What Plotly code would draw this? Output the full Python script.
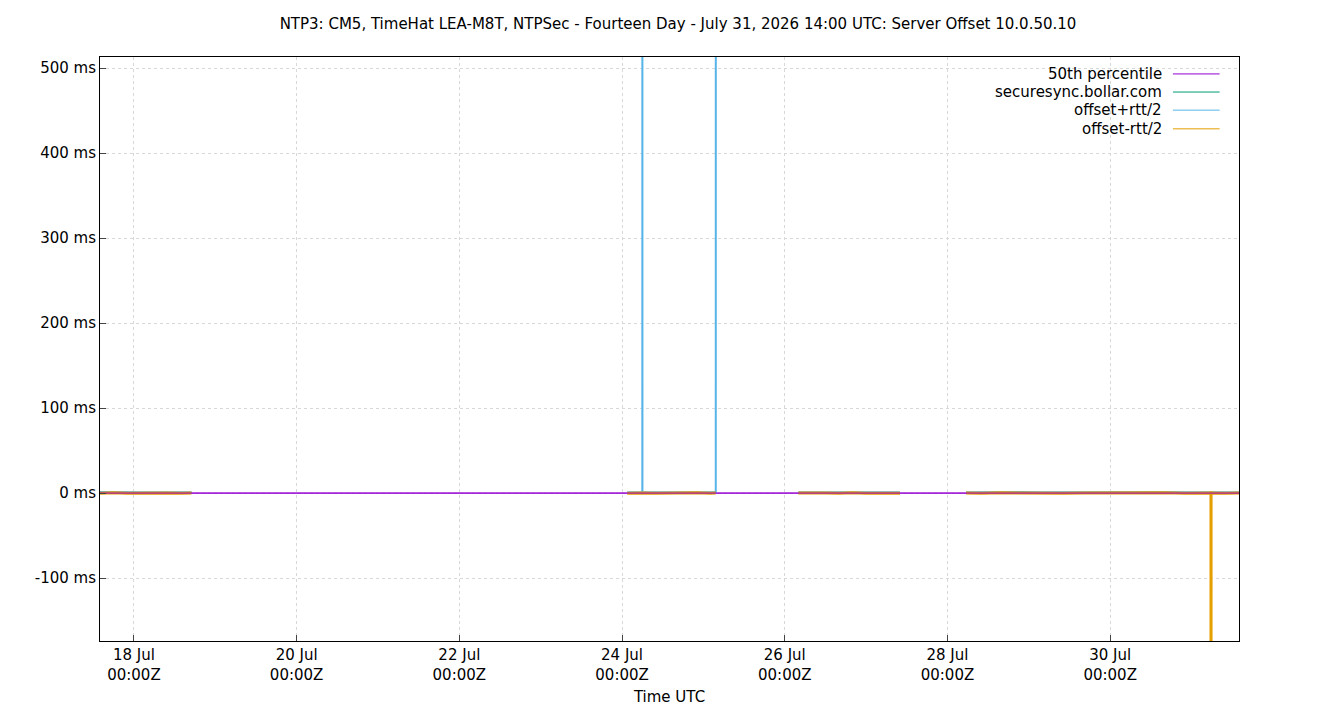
import plotly.graph_objects as go

# sample times (UTC); None marks a gap in the data
times = [
    "2026-07-17 14:00", "2026-07-17 18:00", "2026-07-17 22:00", "2026-07-18 02:00",
    "2026-07-18 06:00", "2026-07-18 10:00", "2026-07-18 14:00", "2026-07-18 17:00",
    None,
    "2026-07-24 01:30", "2026-07-24 04:00", "2026-07-24 05:59", "2026-07-24 06:00",
    "2026-07-24 06:01", "2026-07-24 10:00", "2026-07-24 14:00", "2026-07-24 18:00",
    "2026-07-24 22:00", "2026-07-25 02:00", "2026-07-25 03:39", "2026-07-25 03:40",
    None,
    "2026-07-26 04:00", "2026-07-26 08:00", "2026-07-26 12:00", "2026-07-26 16:00",
    "2026-07-26 20:00", "2026-07-27 00:00", "2026-07-27 04:00", "2026-07-27 10:00",
    None,
    "2026-07-28 05:30", "2026-07-28 10:00", "2026-07-28 16:00", "2026-07-28 22:00",
    "2026-07-29 04:00", "2026-07-29 10:00", "2026-07-29 16:00", "2026-07-29 22:00",
    "2026-07-30 04:00", "2026-07-30 10:00", "2026-07-30 16:00", "2026-07-30 22:00",
    "2026-07-31 04:00", "2026-07-31 05:44", "2026-07-31 05:45", "2026-07-31 05:46",
    "2026-07-31 10:00", "2026-07-31 14:00",
]

offset_plus = [
    1.2, 0.9, 1.3, 1.0, 1.1, 0.8, 1.2, 1.0,
    None,
    1.1, 1.3, 1.0, 900, 1.2, 0.9, 1.3, 1.1, 1.0, 1.2, 1.1, 900,
    None,
    1.0, 1.2, 0.9, 1.3, 1.1, 1.0, 1.2, 0.9,
    None,
    1.1, 1.3, 1.0, 1.2, 0.9, 1.1, 1.3, 1.0, 1.2, 1.1, 1.4, 1.0, 1.3, 1.1, 1.0, 1.2, 1.1, 1.0,
]

offset_minus = [
    -0.2, 0.3, -0.1, 0.2, -0.3, 0.1, -0.2, 0.2,
    None,
    -0.1, 0.3, -0.2, 0.1, 0.2, -0.3, 0.2, -0.1, 0.3, -0.2, 0.1, 0.0,
    None,
    0.2, -0.2, 0.1, -0.1, 0.3, -0.2, 0.1, -0.1,
    None,
    0.1, -0.2, 0.3, -0.1, 0.2, -0.2, 0.1, 0.4, -0.1, 0.2, 0.5, -0.2, 0.3, 0.1, -400, 0.2, -0.1, 0.1,
]

securesync = [
    0.5, 0.6, 0.6, 0.6, 0.4, 0.5, 0.5, 0.6,
    None,
    0.5, 0.8, 0.4, 0.5, 0.7, 0.3, 0.8, 0.5, 0.6, 0.5, 0.6, 0.5,
    None,
    0.6, 0.5, 0.5, 0.6, 0.7, 0.4, 0.6, 0.4,
    None,
    0.6, 0.5, 0.6, 0.6, 0.5, 0.4, 0.7, 0.7, 0.5, 0.6, 0.9, 0.4, 0.8, 0.6, 0.5, 0.7, 0.5, 0.5,
]

p50_times = ["2026-07-17 14:00", "2026-07-31 14:00"]
p50_values = [0.0, 0.0]

tick_vals = ["2026-07-18", "2026-07-20", "2026-07-22", "2026-07-24",
             "2026-07-26", "2026-07-28", "2026-07-30"]
tick_text = ["18 Jul<br>00:00Z", "20 Jul<br>00:00Z", "22 Jul<br>00:00Z", "24 Jul<br>00:00Z",
             "26 Jul<br>00:00Z", "28 Jul<br>00:00Z", "30 Jul<br>00:00Z"]
y_ticks = [-100, 0, 100, 200, 300, 400, 500]
y_labels = ["-100 ms", "0 ms", "100 ms", "200 ms", "300 ms", "400 ms", "500 ms"]

names = ["50th percentile", "securesync.bollar.com", "offset+rtt/2", "offset-rtt/2"]
colors = ["#9400d3", "#009e73", "#56b4e9", "#e69f00"]

fig = go.Figure()
fig.add_trace(go.Scatter(x=p50_times, y=p50_values, mode="lines", line=dict(color=colors[0], width=1)))
fig.add_trace(go.Scatter(x=times, y=securesync, mode="lines", line=dict(color=colors[1], width=1)))
fig.add_trace(go.Scatter(x=times, y=offset_plus, mode="lines", line=dict(color=colors[2], width=2)))
fig.add_trace(go.Scatter(x=times, y=offset_minus, mode="lines", line=dict(color=colors[3], width=3)))
fig.add_trace(go.Scatter(x=p50_times, y=p50_values, mode="lines", line=dict(color=colors[0], width=1)))

# gnuplot-style legend: text right-aligned, sample line to its right
rows = [0.971, 0.940, 0.909, 0.877]
for name, color, yy in zip(names, colors, rows):
    fig.add_annotation(x=0.934, y=yy, xref="paper", yref="paper", text=name, showarrow=False,
                       xanchor="right", yanchor="middle", font=dict(size=15, color="black"))
    fig.add_shape(type="line", xref="paper", yref="paper", x0=0.942, x1=0.983, y0=yy, y1=yy,
                  line=dict(color=color, width=1))

fig.update_layout(
    width=1340, height=720,
    margin=dict(l=92, r=109, t=49, b=87),
    paper_bgcolor="white", plot_bgcolor="white",
    showlegend=False,
    font=dict(family="DejaVu Sans", size=15, color="black"),
    title=dict(text="NTP3: CM5, TimeHat LEA-M8T, NTPSec - Fourteen Day - July 31, 2026 14:00 UTC: Server Offset 10.0.50.10",
               x=0.5, xanchor="center", y=0.985, font=dict(size=15)),
)
fig.update_xaxes(range=["2026-07-17 14:00", "2026-07-31 14:00"], tickvals=tick_vals, ticktext=tick_text,
                 showgrid=True, gridcolor="#d8d8d8", griddash="dot", showline=True, linecolor="black",
                 mirror=True, ticks="inside", ticklen=6, zeroline=False,
                 title=dict(text="Time UTC", font=dict(size=15), standoff=8))
fig.update_yaxes(range=[-174, 513], tickvals=y_ticks, ticktext=y_labels,
                 showgrid=True, gridcolor="#d8d8d8", griddash="dot", showline=True, linecolor="black",
                 mirror=True, ticks="inside", ticklen=6, zeroline=False)

fig.write_html("out.html")
